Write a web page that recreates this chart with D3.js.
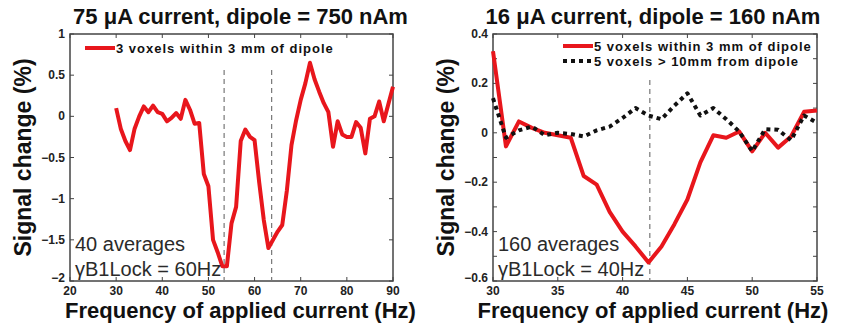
<!DOCTYPE html>
<meta charset="utf-8">
<style>
body { margin: 0; background: #fff; }
text { font-family: "Liberation Sans", Arial, sans-serif; }
.title { font-size: 22px; font-weight: bold; fill: #111; }
.axlabel { font-size: 22px; font-weight: bold; fill: #111; }
.note { font-size: 20px; fill: #2a2a2a; }
.leg { font-size: 13px; font-weight: bold; fill: #111; letter-spacing: 1px; }
</style>
<svg width="851" height="326"></svg>
<script src="https://d3js.org/d3.v7.min.js"></script>
<script>

var red_colour = "#e8161c";

// left panel: 75 uA, 1 Hz steps 30..90
var left_hz = d3.range(30, 91);
var left_signal = [0.1, -0.15, -0.3, -0.41, -0.15, 0.0, 0.12, 0.05, 0.13, 0.05,
  0.03, -0.06, -0.02, 0.04, -0.03, 0.2, 0.08, -0.09, -0.08, -0.7,
  -0.85, -1.5, -1.65, -1.82, -1.82, -1.3, -1.1, -0.3, -0.16, -0.25,
  -0.29, -0.8, -1.26, -1.6, -1.5, -1.4, -1.32, -0.9, -0.35, -0.05,
  0.2, 0.4, 0.65, 0.45, 0.3, 0.16, 0.05, -0.37, -0.06, -0.22,
  -0.25, -0.25, -0.07, -0.14, -0.45, -0.03, 0.0, 0.18, -0.06, 0.15, 0.36];
var left_markers = [53.4, 63.7];
var left_xticks = [20, 30, 40, 50, 60, 70, 80, 90];
var left_yticks = [-2, -1.5, -1, -0.5, 0, 0.5, 1];

// right panel: 16 uA, 1 Hz steps 30..55
var right_hz = d3.range(30, 56);
var right_near = [0.33, -0.055, 0.046, 0.02, 0.0, -0.01, -0.02, -0.175, -0.21, -0.32,
  -0.4, -0.46, -0.525, -0.46, -0.37, -0.27, -0.12, -0.01, -0.02, 0.005,
  -0.075, 0.0, -0.06, -0.015, 0.085, 0.09];
var right_far = [0.14, -0.02, 0.01, 0.025, -0.01, 0.0, -0.005, -0.015, 0.01, 0.025,
  0.06, 0.1, 0.07, 0.055, 0.11, 0.16, 0.07, 0.1, 0.055, 0.005,
  -0.075, 0.015, 0.012, -0.03, 0.07, 0.04];
var right_markers = [42.1];
var right_xticks = [30, 35, 40, 45, 50, 55];
var right_yticks = [-0.6, -0.5, -0.4, -0.3, -0.2, -0.1, 0, 0.1, 0.2, 0.3, 0.4];
var right_ylabels = [-0.6, -0.4, -0.2, 0, 0.2, 0.4];

var svg = d3.select("svg");
var top_y = 34, bottom_y = 281;

function fmt(v) {
  return (v < 0 ? "\u2212" : "") + Math.abs(v);
}

function drawPanel(p) {
  var x = d3.scaleLinear().domain(p.xdom).range([p.x0, p.x1]);
  var y = d3.scaleLinear().domain(p.ydom).range([bottom_y, top_y]);
  var g = svg.append("g");

  // frame
  g.append("rect")
    .attr("x", p.x0).attr("y", top_y)
    .attr("width", p.x1 - p.x0).attr("height", bottom_y - top_y)
    .style("fill", "none").style("stroke", "#444").style("stroke-width", 1.5);

  // inward ticks on all sides
  p.xticks.forEach(function(t) {
    g.append("line").attr("x1", x(t)).attr("x2", x(t)).attr("y1", bottom_y).attr("y2", bottom_y - 4)
      .style("stroke", "#444");
    g.append("line").attr("x1", x(t)).attr("x2", x(t)).attr("y1", top_y).attr("y2", top_y + 4)
      .style("stroke", "#444");
    g.append("text")
      .attr("x", x(t)).attr("y", bottom_y + 14).attr("text-anchor", "middle")
      .style("font-size", "12px").style("font-weight", "bold").style("fill", "#222")
      .text(t);
  });
  p.yticks.forEach(function(t) {
    g.append("line").attr("x1", p.x0).attr("x2", p.x0 + 4).attr("y1", y(t)).attr("y2", y(t))
      .style("stroke", "#444");
    g.append("line").attr("x1", p.x1).attr("x2", p.x1 - 4).attr("y1", y(t)).attr("y2", y(t))
      .style("stroke", "#444");
  });
  p.ylabels.forEach(function(t) {
    var yy = y(t) + 4;
    if (t === p.ydom[0]) yy = y(t) + 1;
    g.append("text")
      .attr("x", p.x0 - 5).attr("y", yy).attr("text-anchor", "end")
      .style("font-size", "12px").style("font-weight", "bold").style("fill", "#222")
      .text(fmt(t));
  });

  // dashed markers
  p.markers.forEach(function(m) {
    g.append("line").attr("x1", x(m)).attr("x2", x(m)).attr("y1", p.mtop).attr("y2", bottom_y)
      .style("stroke", "#777").style("stroke-width", 1.2).style("stroke-dasharray", "5,4");
  });

  // series
  var line = d3.line().x(function(d) { return x(d[0]); }).y(function(d) { return y(d[1]); });
  p.series.forEach(function(s) {
    g.append("path")
      .datum(d3.zip(p.hz, s.values))
      .attr("d", line)
      .style("fill", "none")
      .style("stroke", s.colour)
      .style("stroke-width", 4)
      .style("stroke-linejoin", "round")
      .style("stroke-dasharray", s.dash);
  });

  // legend
  p.series.forEach(function(s, i) {
    var ly = p.legy + i * 15;
    g.append("line").attr("x1", p.legx).attr("x2", p.legx + 30).attr("y1", ly).attr("y2", ly)
      .style("stroke", s.colour).style("stroke-width", 4).style("stroke-dasharray", s.dash);
    g.append("text").attr("class", "leg").attr("x", p.legx + 31).attr("y", ly + 5).text(s.name);
  });

  // notes
  g.append("text").attr("class", "note").attr("x", p.x0 + 5).attr("y", 251).text(p.note1);
  g.append("text").attr("class", "note").attr("x", p.x0 + 5).attr("y", 276).text(p.note2);

  // titles
  g.append("text").attr("class", "title").attr("x", (p.x0 + p.x1) / 2 + p.tdx).attr("y", 24)
    .attr("text-anchor", "middle").text(p.title);
  g.append("text").attr("class", "axlabel").attr("x", (p.x0 + p.x1) / 2 + p.tdx).attr("y", 318)
    .attr("text-anchor", "middle").text("Frequency of applied current (Hz)");
  g.append("text").attr("class", "axlabel").style("font-size", "23px")
    .attr("transform", "translate(" + (p.x0 - 39) + "," + (top_y + bottom_y) / 2 + ") rotate(-90)")
    .attr("text-anchor", "middle").text("Signal change (%)");
}

drawPanel({
  x0: 70, x1: 393, xdom: [20, 90], ydom: [-2, 1],
  hz: left_hz, xticks: left_xticks, yticks: left_yticks, ylabels: left_yticks,
  markers: left_markers, mtop: 70,
  series: [{ name: "3 voxels within 3 mm of dipole", values: left_signal, colour: red_colour, dash: null }],
  legx: 85, legy: 48,
  note1: "40 averages", note2: "\u03b3B1Lock = 60Hz",
  title: "75 \u03bcA current, dipole = 750 nAm", tdx: 9
});

drawPanel({
  x0: 493, x1: 817, xdom: [30, 55], ydom: [-0.6, 0.4],
  hz: right_hz, xticks: right_xticks, yticks: right_yticks, ylabels: right_ylabels,
  markers: right_markers, mtop: 80,
  series: [
    { name: "5 voxels within 3 mm of dipole", values: right_near, colour: red_colour, dash: null },
    { name: "5 voxels > 10mm from dipole", values: right_far, colour: "#111", dash: "4,4" }
  ],
  legx: 563, legy: 46,
  note1: "160 averages", note2: "\u03b3B1Lock = 40Hz",
  title: "16 \u03bcA current, dipole = 160 nAm", tdx: -2
});

</script>
